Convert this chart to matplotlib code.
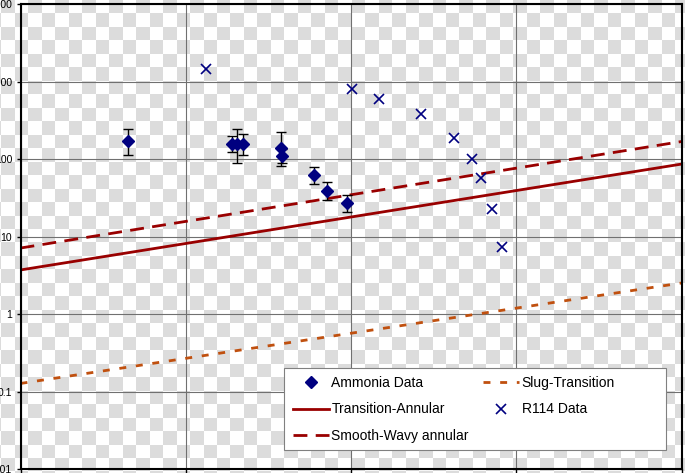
import numpy as np
import matplotlib
matplotlib.use('Agg')
import matplotlib.pyplot as plt
from matplotlib.patches import Rectangle

plt.rcParams['font.family'] = ['Liberation Sans', 'DejaVu Sans']

# Ammonia data (with error bars)
ammonia_x = [4.47, 19.05, 20.4, 22.2, 37.7, 38.2, 59.7, 71.6, 94.6]
ammonia_y = [171, 156, 156, 156, 139, 109, 62, 38.6, 27]
ammonia_lo = [113, 123, 89, 113, 81, 89, 48, 30, 20.7]
ammonia_hi = [244, 198, 244, 210, 223, 134, 79, 50, 34]

# R114 data
r114_x = [13.3, 101, 148, 265, 420, 540, 612, 713, 820]
r114_y = [1449, 800, 594, 381, 187, 100, 57, 22.6, 7.3]

# transition lines (end points)
line_x = [1, 10000]
trans_annular = [3.7, 86]
smooth_wavy = [7.1, 168]
slug_trans = [0.127, 2.51]

ytick_vals = [0.01, 0.1, 1, 10, 100, 1000, 10000]
ytick_labels = ['0.01', '0.1', '1', '10', '100', '1000', '10000']

W, H = 685, 473
fig = plt.figure(figsize=(W / 100, H / 100), dpi=100)
fig.patch.set_facecolor('white')

# checkerboard background (transparent look of the source)
bg = fig.add_axes([0, 0, 1, 1])
s, o = 13.47, 1.5
xe = o + s * np.arange(-1, 53)
ye = s * np.arange(0, 37)
cells = np.add.outer(np.arange(len(ye) - 1), np.arange(len(xe) - 1)) % 2
bg.pcolormesh(xe, ye, cells, cmap=matplotlib.colors.ListedColormap(['#ffffff', '#dcdcdc']))
bg.set_xlim(0, W)
bg.set_ylim(H, 0)
bg.axis('off')

ax = fig.add_axes([20.5 / W, 4 / H, 661 / W, 465 / H])
ax.set_facecolor('none')
ax.set_xscale('log')
ax.set_yscale('log')
ax.set_xlim(1, 10000)
ax.set_ylim(0.01, 10000)

ax.grid(True, which='major', color='#707070', linewidth=0.8)
ax.set_axisbelow(True)

ax.plot(line_x, slug_trans, color='#c0500f', linewidth=2, dashes=(2.5, 3.5), label='Slug-Transition')
ax.plot(line_x, trans_annular, color='#990000', linewidth=2, label='Transition-Annular')
ax.plot(line_x, smooth_wavy, color='#990000', linewidth=2, dashes=(5, 3), label='Smooth-Wavy annular')

yerr = [np.array(ammonia_y) - np.array(ammonia_lo), np.array(ammonia_hi) - np.array(ammonia_y)]
ax.errorbar(ammonia_x, ammonia_y, yerr=yerr, fmt='none', ecolor='black', elinewidth=1, capsize=3.5, capthick=1)
ax.plot(ammonia_x, ammonia_y, linestyle='none', marker='D', markersize=6.5, color='#000080', label='Ammonia Data')
ax.plot(r114_x, r114_y, linestyle='none', marker='x', markersize=7, markeredgewidth=1.2, color='#000080', label='R114 Data')

ax.set_yticks(ytick_vals)
ax.set_yticklabels(ytick_labels)
ax.yaxis.set_minor_locator(matplotlib.ticker.NullLocator())
ax.xaxis.set_minor_locator(matplotlib.ticker.NullLocator())
ax.set_xticks([1, 10, 100, 1000, 10000])
ax.set_xticklabels([])
ax.tick_params(axis='both', direction='out', length=3, width=1, labelsize=7.5, pad=3)
for sp in ax.spines.values():
    sp.set_linewidth(1.5)

# legend box (wider than its entries, as in the source)
box = Rectangle(((284 - 20.5) / 661, (469 - 450) / 465), (666 - 284) / 661, (450 - 367.7) / 465,
                transform=ax.transAxes, facecolor='white', edgecolor='#808080', linewidth=0.8, zorder=4.9)
ax.add_patch(box)

handles, labels = ax.get_legend_handles_labels()
order = ['Ammonia Data', 'Transition-Annular', 'Smooth-Wavy annular', 'Slug-Transition', 'R114 Data']
hmap = dict(zip(labels, handles))
leg = ax.legend([hmap[k] for k in order], order, ncol=2, loc='upper left',
                bbox_to_anchor=(0.399, 0.218), fontsize=10, frameon=False,
                handlelength=2.6, handletextpad=0.2, columnspacing=1.0, labelspacing=0.9,
                borderpad=0.6, borderaxespad=0)
leg.set_zorder(5)

fig.savefig('out.png', dpi=100)
